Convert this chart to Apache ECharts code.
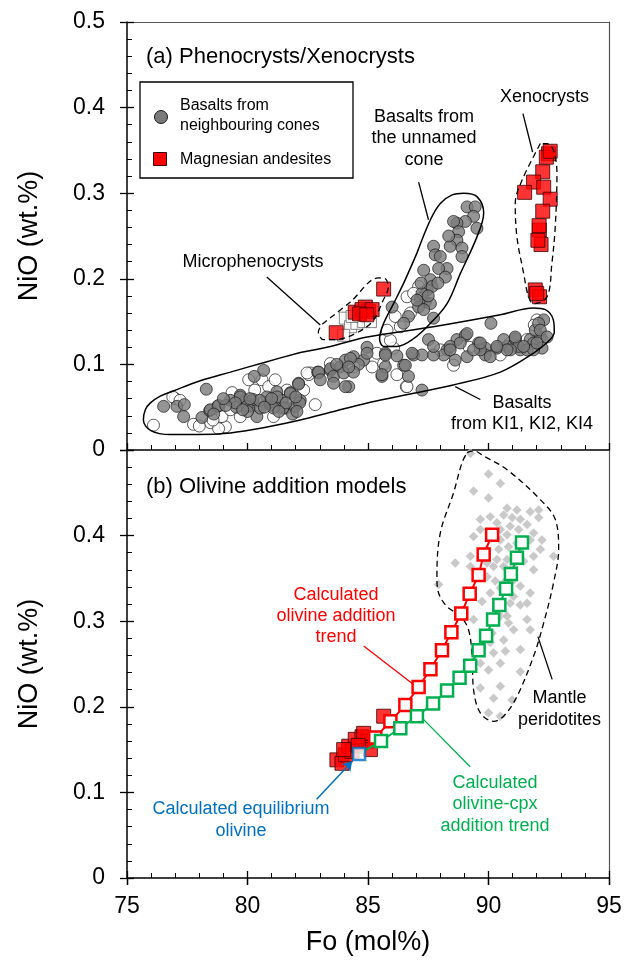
<!DOCTYPE html>
<html><head><meta charset="utf-8">
<script src="https://cdn.jsdelivr.net/npm/echarts@6/dist/echarts.min.js"></script>
<style>html,body{margin:0;padding:0;background:#fff}#c{width:625px;height:961px}</style>
</head><body><div id="c"></div>
<script>
// ---------------- DATA ----------------
const xTicks = [75, 80, 85, 90, 95];           // Fo (mol%)
const yTicks = [0, 0.1, 0.2, 0.3, 0.4, 0.5];   // NiO (wt.%)

// (a) basalts from neighbouring cones (grey circles)
const greyCircles = [
 [76.52,0.051],[77.07,0.051],[77.38,0.053],[77.35,0.039],[78.29,0.071],[78.11,0.038],[78.43,0.046],[78.76,0.051],
 [79.29,0.058],[79.54,0.050],[79.70,0.064],[79.91,0.058],[80.12,0.051],[80.23,0.059],[80.39,0.039],[80.53,0.049],
 [80.67,0.093],[80.28,0.086],[80.95,0.053],[81.22,0.068],[81.43,0.058],[81.57,0.049],[81.78,0.067],[81.87,0.042],
 [82.12,0.078],[81.98,0.051],[82.19,0.058],[82.91,0.091],[83.44,0.093],
 [78.46,0.047],[78.80,0.052],[79.70,0.062],[79.98,0.051],[80.95,0.056],[81.22,0.062],[81.78,0.066],[82.12,0.077],
 [82.16,0.055],[81.47,0.049],[81.08,0.049],[80.80,0.062],[81.00,0.060],[79.50,0.055],[79.10,0.052],[78.60,0.042],
 [80.00,0.045],[81.60,0.055],[82.00,0.062],[80.50,0.058],[79.80,0.047],[79.00,0.060],[80.70,0.050],[81.30,0.045],
 [82.05,0.045],[80.10,0.060],
 [82.95,0.091],[83.44,0.095],[83.85,0.097],[84.06,0.105],[84.40,0.109],[84.82,0.105],[84.96,0.120],[85.58,0.086],
 [85.72,0.113],[85.72,0.097],[86.20,0.110],[86.48,0.099],[86.68,0.086],[86.89,0.111],[86.00,0.167],[84.20,0.074],
 [83.57,0.086],[83.99,0.090],[83.02,0.082],[84.60,0.100],[83.70,0.100],
 [87.51,0.129],[88.28,0.117],[88.69,0.129],[89.04,0.134],[89.59,0.125],[89.87,0.119],[90.10,0.148],[90.35,0.119],
 [90.77,0.121],[91.11,0.130],[91.32,0.117],[91.73,0.129],[91.87,0.125],[92.15,0.132],[92.22,0.119],[92.29,0.152],
 [91.94,0.140],[89.87,0.111],[89.11,0.109],[88.62,0.105],[88.14,0.111],[87.72,0.111],[87.24,0.111],[86.83,0.113],
 [86.55,0.099],[85.72,0.111],[85.58,0.088],[87.24,0.070],[84.96,0.113],[84.27,0.107],[84.40,0.091],[83.57,0.078],
 [84.06,0.074],[84.20,0.097],
 [90.63,0.129],[91.25,0.121],[91.60,0.117],[89.66,0.117],[88.41,0.121],[87.72,0.121],[89.38,0.117],[90.91,0.117],
 [92.08,0.148],[91.87,0.117],
 [92.15,0.140],[92.43,0.132],[92.01,0.125],[91.46,0.121],[91.11,0.132],[90.77,0.117],[90.35,0.121],[90.07,0.109],
 [89.66,0.125],[89.11,0.136],[88.83,0.125],[88.41,0.117],
 [89.11,0.284],[89.45,0.284],[89.38,0.273],[89.52,0.259],[89.04,0.267],[88.69,0.265],[88.55,0.267],[88.76,0.255],
 [88.69,0.245],[88.41,0.238],[88.90,0.236],[88.90,0.226],[87.72,0.238],[87.79,0.228],[88.00,0.226],[88.28,0.212],
 [87.93,0.212],[88.21,0.202],[87.31,0.210],[87.59,0.199],[87.45,0.187],[87.17,0.177],[87.38,0.173],[87.59,0.171],
 [87.10,0.167],[87.31,0.164],[87.72,0.154],[86.68,0.156],[86.48,0.148],[87.24,0.183],[87.03,0.175],[87.66,0.191],
 [88.35,0.250],[87.90,0.195],[87.50,0.180],[87.20,0.195]
];
// (a) open circles
const whiteCircles = [
 [76.10,0.029],[77.00,0.060],[77.76,0.030],[78.46,0.032],[79.08,0.027],[78.80,0.025],[78.94,0.039],[79.36,0.067],
 [80.05,0.082],[80.60,0.082],[80.88,0.074],[81.15,0.082],[80.67,0.056],[81.08,0.039],[81.64,0.070],[82.33,0.070],
 [82.61,0.090],[82.81,0.053],[79.29,0.047],[78.57,0.035],[79.70,0.039],
 [82.54,0.088],[83.44,0.101],[85.17,0.097],[85.37,0.113],[86.06,0.119],[86.59,0.074],[84.40,0.097],
 [86.20,0.088],[86.62,0.074],[85.65,0.101],[88.00,0.117],[88.55,0.099],[90.49,0.111],[92.01,0.152],[91.60,0.129],
 [92.22,0.129],[82.95,0.090],[82.47,0.090],
 [87.10,0.191],[86.76,0.160],[86.34,0.144],[85.93,0.128],[86.62,0.179],[86.89,0.183],[86.13,0.156],[85.79,0.140],
 [76.90,0.062],[77.20,0.058],[78.00,0.028],[80.30,0.070],[81.90,0.060],[89.20,0.120],[90.90,0.125],[91.90,0.146]
];
// (a) magnesian andesites
const microRedTop = [[85.65,0.188],[83.68,0.137],[84.47,0.161],[84.75,0.164],[85.02,0.162],[84.89,0.167],[85.17,0.164],[84.65,0.159],[84.95,0.158]];
const microWhiteTop = [[84.06,0.154],[84.27,0.144],[84.54,0.148],[84.82,0.150],[85.10,0.150],[83.99,0.134],[84.34,0.156]];
const xenoRed = [[92.49,0.346],[92.40,0.342],[92.56,0.349],[92.25,0.325],[91.87,0.313],[92.29,0.307],[91.50,0.301],[92.56,0.293],
 [92.25,0.279],[92.11,0.257],[92.18,0.240],[91.94,0.187],[92.12,0.179],[92.10,0.262],[92.05,0.245],[92.00,0.183]];

// (b)
const mantleDiamonds = [
 [89.25,0.496],[90.00,0.472],[90.49,0.461],[89.38,0.452],[90.00,0.444],[92.08,0.430],[91.73,0.428],[90.63,0.424],
 [90.98,0.421],[91.32,0.419],[89.66,0.419],[90.07,0.422],[92.08,0.421],[90.90,0.411],[91.25,0.407],[91.60,0.413],
 [91.87,0.403],[92.22,0.395],[92.70,0.376],[89.38,0.399],[89.66,0.407],[90.49,0.407],[90.77,0.401],[91.73,0.395],
 [92.15,0.384],[89.25,0.376],[89.94,0.384],[90.42,0.384],[90.83,0.387],[91.32,0.386],[91.87,0.376],[88.62,0.368],
 [89.25,0.364],[89.94,0.368],[90.35,0.372],[90.63,0.364],[91.46,0.370],[91.87,0.360],[87.93,0.343],[89.94,0.352],
 [90.28,0.347],[90.49,0.339],[91.04,0.348],[91.32,0.341],[91.73,0.333],[89.73,0.323],[90.35,0.321],[91.04,0.329],
 [91.32,0.319],[91.60,0.321],[89.38,0.302],[90.49,0.306],[90.83,0.298],[91.60,0.302],[91.04,0.290],[91.73,0.290],
 [90.07,0.275],[90.63,0.278],[90.21,0.263],[90.70,0.265],[91.32,0.267],[89.66,0.251],[90.49,0.251],[90.00,0.243],
 [91.32,0.241],[89.66,0.222],[90.49,0.224],[90.21,0.210],[90.98,0.208],[90.00,0.193],[90.49,0.189],[90.77,0.306],
 [90.15,0.286],[90.49,0.395],[90.21,0.364],[90.77,0.372],[91.04,0.364],[90.63,0.345],[90.07,0.333],[90.90,0.321],
 [91.18,0.391],[90.35,0.415],[91.18,0.430],[90.77,0.432]
];
const microRedBottom = [[85.65,0.189],[83.71,0.138],[83.92,0.134],[84.06,0.144],[84.20,0.154],[84.47,0.162],[84.75,0.165],
 [85.02,0.160],[85.10,0.150],[84.34,0.148],[84.82,0.169],[83.99,0.150],[84.60,0.155]];
const eqOlivine = [[84.63,0.145]];
const olAddTrend = [[85.30,0.164],[85.93,0.183],[86.55,0.202],[87.10,0.223],[87.59,0.244],[88.07,0.266],[88.46,0.287],
 [88.87,0.309],[89.22,0.332],[89.59,0.354],[89.80,0.378],[90.15,0.401]];
const olCpxTrend = [[85.54,0.160],[86.34,0.175],[87.03,0.189],[87.70,0.204],[88.28,0.219],[88.80,0.234],[89.24,0.248],
 [89.59,0.266],[89.90,0.283],[90.19,0.302],[90.45,0.319],[90.73,0.338],[90.93,0.355],[91.18,0.374],[91.39,0.392]];

// envelopes (Fo, NiO)
const envKI = [[82.19,0.114],[83.44,0.121],[84.97,0.132],[87.71,0.144],[90.49,0.158],[91.86,0.166],[92.36,0.164],[92.69,0.152],
 [92.73,0.138],[92.56,0.129],[91.86,0.113],[90.49,0.091],[88.54,0.076],[86.34,0.063],[84.97,0.055],[83.44,0.044],
 [82.19,0.035],[80.66,0.026],[79.29,0.020],[77.92,0.018],[76.80,0.018],[75.97,0.023],[75.68,0.035],[75.76,0.047],
 [75.97,0.055],[76.38,0.063],[76.92,0.069],[78.04,0.081],[79.29,0.091],[80.66,0.102]];
const envUnnamed = [[87.03,0.230],[87.59,0.269],[88.00,0.288],[88.49,0.298],[88.97,0.300],[89.52,0.296],[89.80,0.277],
 [89.52,0.249],[88.83,0.206],[88.28,0.171],[87.59,0.148],[86.89,0.130],[86.20,0.121],[85.65,0.121],[85.48,0.130],
 [85.65,0.148],[86.06,0.171],[86.48,0.195]];
const envMicro = [[83.10,0.147],[84.27,0.173],[85.43,0.201],[85.72,0.200],[85.84,0.190],[85.63,0.175],[85.18,0.150],
 [84.47,0.136],[83.64,0.129],[83.15,0.129],[82.94,0.138]];
const envXeno = [[92.15,0.358],[91.39,0.315],[91.11,0.288],[91.18,0.249],[91.46,0.206],[91.66,0.179],[91.87,0.171],
 [92.43,0.179],[92.63,0.218],[92.77,0.261],[92.84,0.323],[92.70,0.350],[92.43,0.358]];
const envMantle = [[89.11,0.497],[89.40,0.499],[89.80,0.493],[90.77,0.477],[92.15,0.442],[92.77,0.419],[92.91,0.384],[92.70,0.345],
 [92.29,0.298],[91.87,0.259],[91.18,0.212],[90.63,0.189],[90.21,0.183],[89.66,0.193],[89.38,0.220],[89.32,0.259],
 [89.17,0.290],[88.83,0.306],[88.28,0.317],[87.93,0.333],[87.86,0.352],[88.00,0.403],[88.55,0.450],[88.90,0.485]];

// leader lines (Fo, NiO)
const leadersTop = [
 [[80.80,0.202],[83.02,0.146]],
 [[87.10,0.313],[87.51,0.269]],
 [[91.43,0.393],[91.83,0.348]],
 [[88.62,0.074],[89.66,0.059]]
];
const leaderMantle = [[92.05,0.282],[92.64,0.232]];
const leaderOlAdd = [[84.82,0.271],[86.89,0.226]];
const leaderOlCpx = [[87.31,0.185],[89.24,0.130]];
const arrowEq = [[82.87,0.092],[84.34,0.136]];

// ---------------- CHART ----------------
const FONT = '"Liberation Sans", Arial, Helvetica, sans-serif';
const RED = '#ff0000', GREEN = '#00b050', BLUE = '#0070c0';
const chart = echarts.init(document.getElementById('c'), null, {renderer: 'canvas'});

const xMin = xTicks[0], xMax = xTicks[xTicks.length - 1], xInt = xTicks[1] - xTicks[0];
const yMin = yTicks[0], yMax = yTicks[yTicks.length - 1], yInt = +(yTicks[1] - yTicks[0]).toFixed(3);

const G = {left: 127, width: 482, height: 428};
const grids = [
  Object.assign({top: 22}, G), Object.assign({top: 450}, G),
  Object.assign({top: 22}, G), Object.assign({top: 450}, G)
];
const tickLS = {color: '#000', width: 1.3};
function xa(o) {
  return Object.assign({type: 'value', min: xMin, max: xMax, interval: xInt, splitLine: {show: false},
    axisLine: {show: false}, axisTick: {show: false}, axisLabel: {show: false}}, o);
}
function ya(o) {
  return Object.assign({type: 'value', min: yMin, max: yMax, interval: yInt, splitLine: {show: false},
    axisLine: {show: false}, axisTick: {show: false}, axisLabel: {show: false}}, o);
}
const inTicks = {
  axisLine: {show: true, onZero: false, lineStyle: {color: '#000', width: 1.5}},
  axisTick: {show: true, inside: true, length: 7, lineStyle: tickLS},
  minorTick: {show: true, splitNumber: 5, length: 5, lineStyle: {color: '#000', width: 1}}
};
const borderLine = {axisLine: {show: true, onZero: false, lineStyle: {color: '#555', width: 1.2}}};
const yFmt = v => v === 0 ? '0' : v.toFixed(1);

const xAxis = [
  xa(Object.assign({gridIndex: 0, position: 'bottom'}, inTicks)),
  xa(Object.assign({gridIndex: 0, position: 'top'}, borderLine)),
  xa(Object.assign({gridIndex: 1, position: 'bottom'}, inTicks)),
  xa({gridIndex: 1, position: 'top', axisTick: {show: true, inside: true, length: 7, lineStyle: tickLS}}),
  xa({gridIndex: 2, position: 'bottom', show: false}),
  xa({gridIndex: 3, position: 'bottom',
      axisTick: {show: true, inside: false, length: 7, lineStyle: tickLS},
      axisLabel: {show: true, fontSize: 23, fontFamily: FONT, color: '#000', margin: 17},
      name: 'Fo (mol%)', nameLocation: 'middle', nameGap: 51,
      nameTextStyle: {fontSize: 27, fontFamily: FONT, color: '#000'}})
];
const yAxis = [
  ya(Object.assign({gridIndex: 0, position: 'left'}, inTicks)),
  ya(Object.assign({gridIndex: 0, position: 'right'}, borderLine)),
  ya(Object.assign({gridIndex: 1, position: 'left'}, inTicks)),
  ya(Object.assign({gridIndex: 1, position: 'right'}, borderLine)),
  ya({gridIndex: 2, position: 'left',
      axisTick: {show: true, inside: false, length: 7, lineStyle: tickLS},
      axisLabel: {show: true, fontSize: 23, fontFamily: FONT, color: '#000', margin: 22, formatter: yFmt},
      name: 'NiO (wt.%)', nameLocation: 'middle', nameGap: 84,
      nameTextStyle: {fontSize: 27, fontFamily: FONT, color: '#000'}}),
  ya({gridIndex: 3, position: 'left',
      axisTick: {show: true, inside: false, length: 7, lineStyle: tickLS},
      axisLabel: {show: true, fontSize: 23, fontFamily: FONT, color: '#000', margin: 22,
                  formatter: v => v >= yMax - 1e-9 ? '' : yFmt(v)},
      name: 'NiO (wt.%)', nameLocation: 'middle', nameGap: 84,
      nameTextStyle: {fontSize: 27, fontFamily: FONT, color: '#000'}})
];

const TOP = {xAxisIndex: 0, yAxisIndex: 0};
const BOT = {xAxisIndex: 2, yAxisIndex: 2};
const closed = a => a.concat([a[0]]);
const sc = (axes, data, sym, size, item, z) => Object.assign({type: 'scatter', data, symbol: sym, symbolSize: size,
  itemStyle: item, z: z || 2, silent: true}, axes);
const env = (axes, data, dashed) => Object.assign({type: 'line', data: closed(data), smooth: 0.35, showSymbol: false,
  symbol: 'none', lineStyle: {color: '#000', width: dashed ? 1.3 : 1.5, type: dashed ? [6, 4] : 'solid'}, z: 4, silent: true}, axes);
const leaders = (axes, list, color) => Object.assign({type: 'lines', coordinateSystem: 'cartesian2d',
  data: list.map(c => ({coords: c})), lineStyle: {color: color || '#000', width: 1.3, opacity: 1}, z: 4, silent: true}, axes);
const trend = (axes, pts, color) => Object.assign({type: 'line', data: [{value: eqOlivine[0], symbol: 'none'}].concat(pts),
  symbol: 'rect', symbolSize: 12, showSymbol: true,
  lineStyle: {color, width: 2}, itemStyle: {color: '#fff', borderColor: color, borderWidth: 2.5}, z: 6, silent: true}, axes);

const series = [
  // (a)
  sc(TOP, whiteCircles, 'circle', 12, {color: '#fff', borderColor: '#1a1a1a', borderWidth: 0.9}),
  sc(TOP, greyCircles, 'circle', 12, {color: '#7a7a7a', borderColor: '#1a1a1a', borderWidth: 0.9}),
  sc(TOP, microWhiteTop, 'rect', 12, {color: '#fff', borderColor: '#444', borderWidth: 0.8}),
  sc(TOP, microRedTop, 'rect', 14, {color: RED, borderColor: '#3a0000', borderWidth: 1}, 3),
  sc(TOP, xenoRed, 'rect', 14, {color: RED, borderColor: '#3a0000', borderWidth: 1}, 3),
  env(TOP, envKI, false), env(TOP, envUnnamed, false), env(TOP, envMicro, true), env(TOP, envXeno, true),
  leaders(TOP, leadersTop),
  // (b)
  sc(BOT, mantleDiamonds, 'diamond', 10, {color: '#bcbcbc', borderColor: '#fff', borderWidth: 0.6}),
  env(BOT, envMantle, true),
  sc(BOT, microRedBottom, 'rect', 14, {color: RED, borderColor: '#3a0000', borderWidth: 1}, 3),
  trend(BOT, olAddTrend, RED),
  trend(BOT, olCpxTrend, GREEN),
  sc(BOT, eqOlivine, 'rect', 12, {color: '#fff', borderColor: BLUE, borderWidth: 2.5}, 8),
  leaders(BOT, [leaderMantle]),
  leaders(BOT, [leaderOlAdd], RED),
  leaders(BOT, [leaderOlCpx], GREEN),
  Object.assign({type: 'lines', coordinateSystem: 'cartesian2d', data: [{coords: arrowEq}],
    symbol: ['none', 'arrow'], symbolSize: 9, lineStyle: {color: BLUE, width: 1.5, opacity: 1}, z: 7, silent: true}, BOT)
];

function txt(x, y, text, size, color, align, lh) {
  return {type: 'text', x, y, z: 20, silent: true,
    style: {text, fontSize: size, fontFamily: FONT, fill: color || '#000', align: align || 'center',
            verticalAlign: 'middle', lineHeight: lh || Math.round(size * 1.2)}};
}

const graphic = [
  txt(146, 57, '(a) Phenocrysts/Xenocrysts', 22, '#000', 'left'),
  txt(146, 487, '(b) Olivine addition models', 22, '#000', 'left'),
  {type: 'rect', z: 19, silent: true, shape: {x: 140, y: 82, width: 213, height: 96},
   style: {fill: '#fff', stroke: '#000', lineWidth: 1.3}},
  {type: 'circle', z: 20, silent: true, shape: {cx: 161, cy: 117, r: 6.5},
   style: {fill: '#7a7a7a', stroke: '#1a1a1a', lineWidth: 1}},
  {type: 'rect', z: 20, silent: true, shape: {x: 153.5, y: 152.5, width: 13, height: 13},
   style: {fill: RED, stroke: '#3a0000', lineWidth: 1}},
  txt(180, 115.5, 'Basalts from\nneighbouring cones', 16, '#000', 'left', 20),
  txt(180, 159.5, 'Magnesian andesites', 16, '#000', 'left'),
  txt(544.5, 97, 'Xenocrysts', 18),
  txt(424, 138.5, 'Basalts from\nthe unnamed\ncone', 18, '#000', 'center', 21.5),
  txt(253, 262, 'Microphenocrysts', 18),
  txt(522, 413.5, 'Basalts\nfrom KI1, KI2, KI4', 18, '#000', 'center', 21),
  txt(336, 616, 'Calculated\nolivine addition\ntrend', 18, RED, 'center', 21),
  txt(559.5, 709, 'Mantle\nperidotites', 18, '#000', 'center', 22),
  txt(495, 804.5, 'Calculated\nolivine-cpx\naddition trend', 18, GREEN, 'center', 21.5),
  txt(241, 820, 'Calculated equilibrium\nolivine', 18, BLUE, 'center', 22)
];

chart.setOption({
  animation: false,
  backgroundColor: '#fff',
  grid: grids,
  xAxis, yAxis, series, graphic
});
</script>
</body></html>
